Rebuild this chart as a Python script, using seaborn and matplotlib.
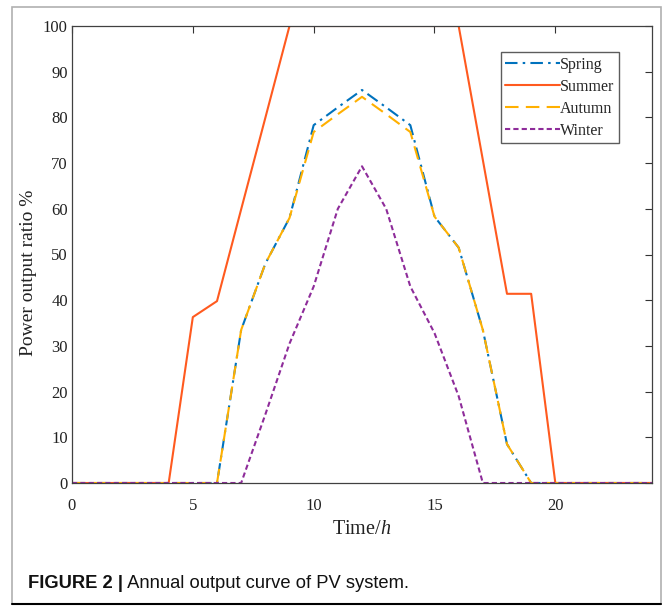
import numpy as np
import pandas as pd
import matplotlib.pyplot as plt
import seaborn as sns
from matplotlib.lines import Line2D
from matplotlib.patches import Rectangle

hours = list(range(25))
spring = [0, 0, 0, 0, 0, 0, 0, 33.5, 48, 58, 78.3, 82.2, 86, 82.2, 78.3, 58.3, 51.5, 33.5, 8.5, 0, 0, 0, 0, 0, 0]
summer = [0, 0, 0, 0, 0, 36.3, 39.8, 59.9, 79.9, 100, 100, 100, 100, 100, 100, 100, 100, 70.7, 41.4, 41.4, 0, 0, 0, 0, 0]
autumn = [0, 0, 0, 0, 0, 0, 0, 33.5, 48, 58, 76.8, 80.7, 84.5, 80.7, 76.8, 58.3, 51.5, 33.5, 8.5, 0, 0, 0, 0, 0, 0]
winter = [0, 0, 0, 0, 0, 0, 0, 0, 15, 30.5, 43, 60, 69.3, 60, 43, 32.8, 19, 0, 0, 0, 0, 0, 0, 0, 0]
seasons = ['Spring', 'Summer', 'Autumn', 'Winter']

df = pd.DataFrame({'Time': hours * 4,
                   'Ratio': spring + summer + autumn + winter,
                   'Season': np.repeat(seasons, len(hours))})

palette = {'Spring': '#0072BD', 'Summer': '#FF5A1F', 'Autumn': '#FFB000', 'Winter': '#8E2C9A'}
dashes = {'Spring': (6, 2.5, 1.2, 2.5), 'Summer': '', 'Autumn': (6.5, 3.5), 'Winter': (2.5, 1.5)}

sns.set_style('white')
plt.rcParams['font.family'] = ['Liberation Serif', 'DejaVu Serif']
plt.rcParams['mathtext.fontset'] = 'custom'
plt.rcParams['mathtext.rm'] = 'Liberation Serif'
plt.rcParams['mathtext.it'] = 'Liberation Serif:italic'

W, H = 664, 606
fig = plt.figure(figsize=(W / 100, H / 100), dpi=100)
ax = fig.add_axes([72 / W, 1 - 483 / H, 580 / W, 457 / H])

sns.lineplot(data=df, x='Time', y='Ratio', hue='Season', style='Season',
             palette=palette, dashes=dashes, linewidth=1.5, ax=ax, legend=False)

ax.set_xlim(0, 24)
ax.set_ylim(0, 100)
ax.set_xticks([0, 5, 10, 15, 20])
ax.set_yticks(range(0, 101, 10))
ax.tick_params(direction='in', length=5, width=0.8, color='#333333',
               top=True, right=True, labelsize=12, labelcolor='#222222')
ax.tick_params(axis='x', pad=11)
ax.tick_params(axis='y', pad=3)
for s in ax.spines.values():
    s.set_color('#404040')
    s.set_linewidth(0.9)
ax.set_xlabel('Time/$h$', fontsize=14.5, color='#222222')
ax.set_ylabel('Power output ratio %', fontsize=14, color='#222222')
ax.xaxis.set_label_coords(0.5, -0.08)
ax.yaxis.set_label_coords(-0.061, 0.46)

handles = [Line2D([], [], color=palette[s], linewidth=1.5,
                  dashes=dashes[s] if dashes[s] else (None, None)) for s in seasons]
leg = ax.legend(handles, seasons, loc='upper right', bbox_to_anchor=(0.943, 0.943),
                fontsize=11.5, frameon=True, fancybox=False, handlelength=3.4,
                handletextpad=0.0, borderpad=0.3, labelspacing=0.37, borderaxespad=0)
leg.get_frame().set_edgecolor('#333333')
leg.get_frame().set_linewidth(1.0)

# outer figure frame
fig.patches.append(Rectangle((12 / W, 1 - 604 / H), 649 / W, 597 / H, transform=fig.transFigure,
                             fill=False, edgecolor='#b0b0b0', linewidth=1.2))
fig.lines.append(Line2D([12 / W, 661 / W], [1 - 604 / H, 1 - 604 / H], transform=fig.transFigure,
                        color='black', linewidth=1.5))

t1 = fig.text(28 / W, 1 - 588 / H, 'FIGURE 2 |', fontsize=13.2, fontweight='bold',
              family='Liberation Sans', va='baseline', color='#111111')
fig.canvas.draw()
bb = t1.get_window_extent()
fig.text(bb.x1 / W, 1 - 588 / H, ' Annual output curve of PV system.', fontsize=13.2,
         family='Liberation Sans', va='baseline', color='#111111')

fig.savefig('out.png', dpi=100)
